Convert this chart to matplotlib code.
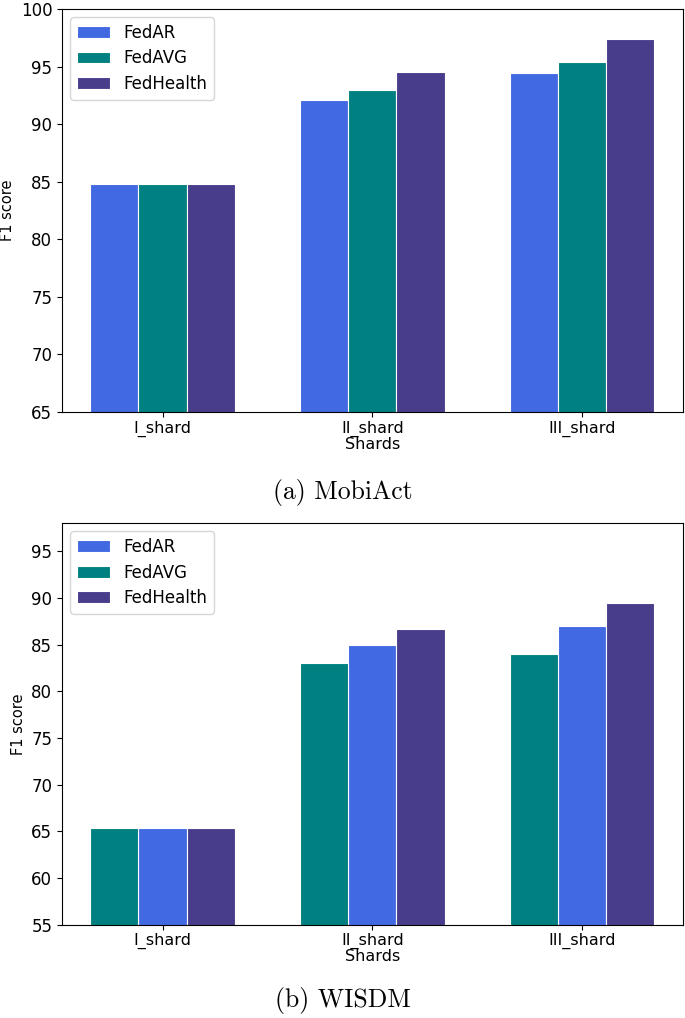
import numpy as np
import matplotlib
matplotlib.use("Agg")
import matplotlib.pyplot as plt

shards = ["I_shard", "II_shard", "III_shard"]
methods = ["FedAR", "FedAVG", "FedHealth"]
colors = ["royalblue", "teal", "darkslateblue"]

# (a) MobiAct
mobiact_fedar = [84.8, 92.1, 94.45]
mobiact_fedavg = [84.8, 93.0, 95.4]
mobiact_fedhealth = [84.8, 94.5, 97.35]

# (b) WISDM
wisdm_fedar = [65.35, 85.0, 87.0]
wisdm_fedavg = [65.35, 83.0, 84.0]
wisdm_fedhealth = [65.35, 86.7, 89.45]

fig = plt.figure(figsize=(6.85, 10.18), dpi=100)
ax1 = fig.add_axes([0.0905, 0.5953, 0.906, 0.3959])
ax2 = fig.add_axes([0.0905, 0.0914, 0.906, 0.3948])

x = np.arange(len(shards))
w = 0.23

# top: FedAR, FedAVG, FedHealth from left to right
ax1.bar(x - w, mobiact_fedar, w, color=colors[0], edgecolor="white", linewidth=0.8, label=methods[0])
ax1.bar(x, mobiact_fedavg, w, color=colors[1], edgecolor="white", linewidth=0.8, label=methods[1])
ax1.bar(x + w, mobiact_fedhealth, w, color=colors[2], edgecolor="white", linewidth=0.8, label=methods[2])
ax1.set_ylim(65, 100)
ax1.set_yticks(np.arange(65, 101, 5))

# bottom: FedAVG sits left, FedAR in the middle
ax2.bar(x, wisdm_fedar, w, color=colors[0], edgecolor="white", linewidth=0.8, label=methods[0])
ax2.bar(x - w, wisdm_fedavg, w, color=colors[1], edgecolor="white", linewidth=0.8, label=methods[1])
ax2.bar(x + w, wisdm_fedhealth, w, color=colors[2], edgecolor="white", linewidth=0.8, label=methods[2])
ax2.set_ylim(55, 98)
ax2.set_yticks(np.arange(55, 96, 5))

for ax in (ax1, ax2):
    ax.set_xticks(x)
    ax.set_xticklabels(shards, fontsize=11.5)
    ax.tick_params(axis="x", pad=2.5)
    ax.tick_params(axis="y", labelsize=12)
    ax.set_xlabel("Shards", fontsize=11.5, labelpad=0)
    ax.set_ylabel("F1 score", fontsize=10.5)
    ax.legend(loc="upper left", fontsize=12, handlelength=2.0, handletextpad=0.8,
              borderpad=0.4, labelspacing=0.45)

fig.text(0.5, 1 - 493 / 1018, "(a) MobiAct", ha="center", va="center", fontsize=18.5, family="cmr10")
fig.text(0.5, 1 - 1000 / 1018, "(b) WISDM", ha="center", va="center", fontsize=18.5, family="cmr10")

fig.savefig("out.png", dpi=100)
